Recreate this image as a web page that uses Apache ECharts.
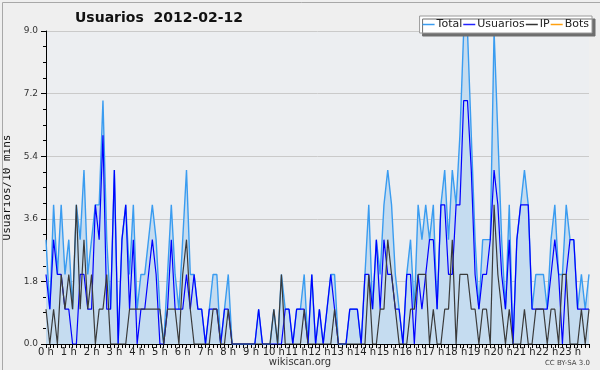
<!DOCTYPE html>
<html>
<head>
<meta charset="utf-8">
<script src="https://cdn.jsdelivr.net/npm/echarts@6/dist/echarts.min.js"></script>
<style>
html,body{margin:0;padding:0;background:#f0f0f0;}
#c{width:600px;height:370px;background:#efefef;}
</style>
</head>
<body>
<div id="c"></div>
<script>
// Tick labels (one per hour, a slot every 10 minutes)
const hourLabels = ['0 h','1 h','2 h','3 h','4 h','5 h','6 h','7 h','8 h','9 h','10 h','11 h',
  '12 h','13 h','14 h','15 h','16 h','17 h','18 h','19 h','20 h','21 h','22 h','23 h'];
const yTicks = [0, 1.8, 3.6, 5.4, 7.2, 9.0];

// Series values, 144 ten-minute slots
const total = [
  3,1,4,2,4,2,3,1,4,3, 5,2,3,4,4,7,3,1,5,0,
  3,4,2,4,1,2,2,3,4,3, 1,0,2,4,2,1,3,5,2,2,
  1,1,0,1,2,2,0,1,2,0, 0,0,0,0,0,0,1,0,0,0,
  1,0,2,1,1,0,1,1,2,0, 2,0,1,0,1,2,2,0,0,0,
  1,1,1,0,2,4,1,3,2,4, 5,4,2,1,0,2,3,1,4,3,
  4,3,4,1,4,5,3,5,4,6, 9,9,6,3,1,3,3,3,9,6,
  3,1,4,0,3,4,5,4,1,2, 2,2,1,3,4,2,2,4,3,3,
  1,2,1,2];
const usuarios = [
  2,1,3,2,2,1,1,0,0,2, 2,1,1,4,3,6,1,1,5,0,
  3,4,1,3,0,1,1,2,3,2, 0,0,1,3,1,1,1,2,1,2,
  1,1,0,1,1,1,0,1,1,0, 0,0,0,0,0,0,1,0,0,0,
  0,0,0,1,1,0,1,1,1,0, 2,0,1,0,1,2,1,0,0,0,
  1,1,1,0,2,2,1,3,1,3, 2,2,1,1,0,2,2,0,2,1,
  2,3,3,1,4,4,2,2,4,4, 7,7,5,2,1,2,2,3,5,4,
  2,1,3,0,3,4,4,4,1,1, 1,1,1,2,3,2,0,2,3,3,
  1,1,1,1];
const ip = [
  1,0,1,0,2,1,2,1,4,1, 3,1,2,0,1,1,2,0,0,0,
  0,0,1,1,1,1,1,1,1,1, 1,0,1,1,1,0,2,3,1,0,
  0,0,0,0,1,1,0,0,1,0, 0,0,0,0,0,0,0,0,0,0,
  1,0,2,0,0,0,0,0,1,0, 0,0,0,0,0,0,1,0,0,0,
  0,0,0,0,0,2,0,0,1,1, 3,2,1,0,0,0,1,1,2,2,
  2,0,1,0,0,1,1,3,0,2, 2,2,1,1,0,1,1,0,4,2,
  1,0,1,0,0,0,1,0,0,1, 1,1,0,1,1,0,2,2,0,0,
  0,1,0,1];
const bots = [
  0,0,0,0,0,0,0,0,0,0, 0,0,0,0,0,0,0,0,0,0,
  0,0,0,0,0,0,0,0,0,0, 0,0,0,0,0,0,0,0,0,0,
  0,0,0,0,0,0,0,0,0,0, 0,0,0,0,0,0,0,0,0,0,
  0,0,0,0,0,0,0,0,0,0, 0,0,0,0,0,0,0,0,0,0,
  0,0,0,0,0,0,0,0,0,0, 0,0,0,0,0,0,0,0,0,0,
  0,0,0,0,0,0,0,0,0,0, 0,0,0,0,0,0,0,0,0,0,
  0,0,0,0,0,0,0,0,0,0, 0,0,0,0,0,0,0,0,0,0,
  0,0,0,0];

const slots = [];
for (let h = 0; h < 24; h++) for (let m = 0; m < 60; m += 10)
  slots.push(String(h).padStart(2,'0') + ':' + String(m).padStart(2,'0'));

const FONT = 'DejaVu Sans';
const chart = echarts.init(document.getElementById('c'), null, {renderer:'canvas'});
chart.setOption({
  animation: false,
  backgroundColor: '#efefef',
  title: {
    text: 'Usuarios  2012-02-12', left: 75, top: 11, padding: 0,
    textStyle: {fontFamily: FONT, fontSize: 14, fontWeight: 'bold', color: '#111'}
  },
  legend: {
    right: 8, top: 16, orient: 'horizontal',
    data: ['Total','Usuarios','IP','Bots'],
    icon: 'rect', itemWidth: 12, itemHeight: 1.5, itemGap: 1,
    padding: [3, 3, 3, 3],
    backgroundColor: '#ffffff', borderColor: '#9a9a9a', borderWidth: 1,
    shadowColor: '#6f6f6f', shadowOffsetX: 3, shadowOffsetY: 3, shadowBlur: 0,
    textStyle: {fontFamily: FONT, fontSize: 11, color: '#222', padding: [0,0,0,-3]}
  },
  grid: {left: 46, right: 11, top: 31, bottom: 26, show: true, backgroundColor: '#eceef1',
         borderWidth: 0, containLabel: false, outerBoundsMode: 'none'},
  xAxis: {
    type: 'category', data: slots, boundaryGap: false, z: 1,
    axisLine: {lineStyle: {color: '#000', width: 1}},
    axisTick: {show: true, interval: 0, length: 4, lineStyle: {color: '#000'}},
    axisLabel: {
      interval: 0, margin: 3, fontFamily: FONT, fontSize: 10, color: '#222',
      formatter: (v, i) => (i % 6 === 0 ? hourLabels[i / 6] : '')
    },
    splitLine: {show: false}
  },
  yAxis: {
    type: 'value', min: yTicks[0], max: yTicks[yTicks.length - 1], interval: 1.8,
    name: 'Usuarios/10 mins', nameLocation: 'middle', nameGap: 28, nameRotate: 90,
    nameTextStyle: {fontFamily: 'DejaVu Sans Mono', fontSize: 11, color: '#111'},
    axisLine: {show: true, lineStyle: {color: '#000'}},
    axisTick: {show: true, length: 5, lineStyle: {color: '#000'}},
    minorTick: {show: true, splitNumber: 4, length: 3, lineStyle: {color: '#000'}},
    axisLabel: {margin: 8, fontFamily: FONT, fontSize: 9, color: '#333', formatter: v => v.toFixed(1)},
    splitLine: {show: true, lineStyle: {color: '#cacaca', width: 1}}
  },
  series: [
    {name: 'Bots', type: 'line', data: bots, symbol: 'none', z: 0,
     lineStyle: {color: '#ffa010', width: 1}, itemStyle: {color: '#ffa010'}},
    {name: 'Total', type: 'line', data: total, symbol: 'none', z: 2,
     lineStyle: {color: '#3a9cf0', width: 1.4}, itemStyle: {color: '#3a9cf0'},
     areaStyle: {color: '#c5dcf0', opacity: 1}},
    {name: 'Usuarios', type: 'line', data: usuarios, symbol: 'none', z: 3,
     lineStyle: {color: '#0000ff', width: 1.2}, itemStyle: {color: '#2222ff'}},
    {name: 'IP', type: 'line', data: ip, symbol: 'none', z: 4,
     lineStyle: {color: '#3a3a3a', width: 1.2}, itemStyle: {color: '#333'}}
  ],
  graphic: [
    {type: 'text', left: 'center', top: 357, style: {text: 'wikiscan.org', font: '10px "DejaVu Sans"', fill: '#333'}},
    {type: 'text', right: 10, top: 360, style: {text: 'CC BY-SA 3.0', font: '7px "DejaVu Sans"', fill: '#444'}},
    {type: 'rect', left: 0, top: 0, z: 100, silent: true,
     shape: {x: 0.5, y: 0.5, width: 599, height: 369},
     style: {fill: 'none', stroke: '#a8a8a8', lineWidth: 1}}
  ]
});
</script>
</body>
</html>
